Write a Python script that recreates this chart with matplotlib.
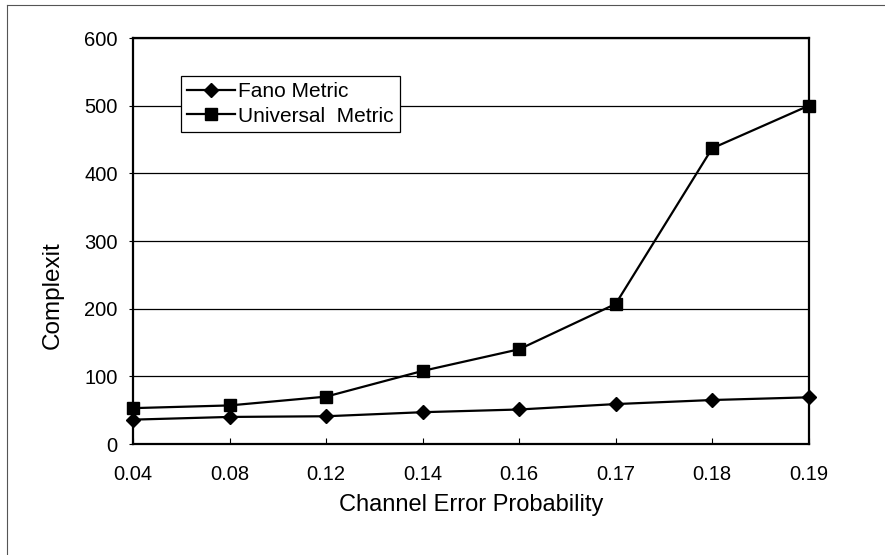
import numpy as np
import matplotlib
matplotlib.use("Agg")
import matplotlib.pyplot as plt
from matplotlib.lines import Line2D

plt.rcParams['font.family'] = ['Liberation Sans', 'DejaVu Sans']

# data
x_labels = ["0.04", "0.08", "0.12", "0.14", "0.16", "0.17", "0.18", "0.19"]
fano = [36, 40, 41, 47, 51, 59, 65, 69]
universal = [53, 57, 70, 108, 140, 207, 437, 500]
y_ticks = [0, 100, 200, 300, 400, 500, 600]

fig = plt.figure(figsize=(8.85, 5.55), dpi=100)
ax = fig.add_axes([0.1503, 0.2, 0.7635, 0.7315])

xs = np.arange(len(x_labels))
ax.plot(xs, fano, color="black", lw=1.6, marker="D", markersize=7.5,
        label="Fano Metric", clip_on=False, zorder=3)
ax.plot(xs, universal, color="black", lw=1.6, marker="s", markersize=8.5,
        label="Universal  Metric", clip_on=False, zorder=3)

ax.set_xlim(0, len(x_labels) - 1)
ax.set_ylim(0, 600)
ax.set_xticks(xs)
ax.set_xticklabels(x_labels)
ax.set_yticks(y_ticks)
ax.yaxis.grid(True, color="black", lw=0.9)
ax.set_axisbelow(True)

for s in ax.spines.values():
    s.set_linewidth(1.6)
ax.tick_params(axis="x", direction="in", length=4, width=0.8, labelsize=14.5, pad=15)
ax.tick_params(axis="y", direction="out", length=3, width=0.8, labelsize=14.5, pad=8)

ax.set_xlabel("Channel Error Probability", fontsize=17, labelpad=7)
ax.set_ylabel("Complexit", fontsize=17.5)
# label sits below the middle of the axis in the reference
ax.yaxis.set_label_coords(-0.103, 0.367)

leg = ax.legend(loc="upper left", bbox_to_anchor=(0.071, 0.906), borderaxespad=0,
                fontsize=15, handlelength=2.3, handletextpad=0.15, labelspacing=0.25,
                borderpad=0.3, fancybox=False, framealpha=1, edgecolor="black")
leg.get_frame().set_linewidth(0.9)

# outer page frame
fig.add_artist(Line2D([7 / 885, 7 / 885], [0, 1 - 5 / 555], transform=fig.transFigure,
                      color="#555555", lw=0.8))
fig.add_artist(Line2D([7 / 885, 1], [1 - 5 / 555, 1 - 5 / 555], transform=fig.transFigure,
                      color="#555555", lw=0.8))

fig.savefig("out.png", dpi=100)
